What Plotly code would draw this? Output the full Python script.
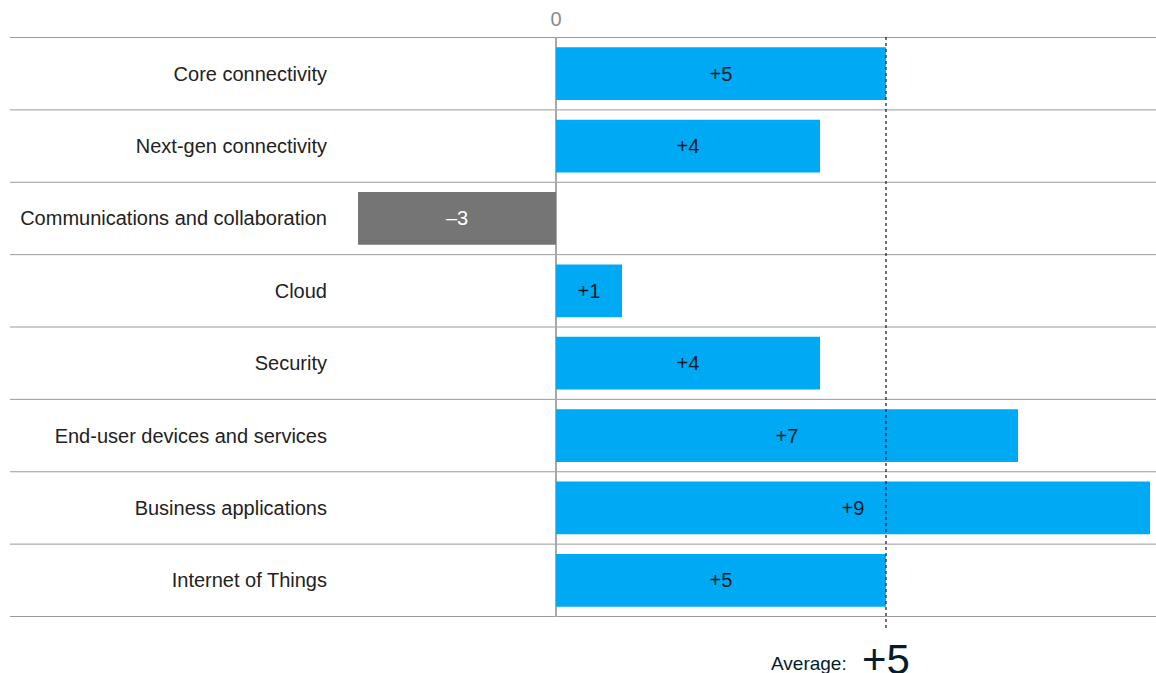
import plotly.graph_objects as go

# Change in spending by technology category (percentage points)
categories = [
    "Core connectivity",
    "Next-gen connectivity",
    "Communications and collaboration",
    "Cloud",
    "Security",
    "End-user devices and services",
    "Business applications",
    "Internet of Things",
]
values = [5, 4, -3, 1, 4, 7, 9, 5]
average = 5

BLUE = "#00a9f4"
GREY = "#757575"
NAVY = "#051c2c"
RULE = "#9a9a9a"
FONT = "Liberation Sans, Arial, sans-serif"


def fmt(v):
    return f"+{v}" if v > 0 else f"\u2013{abs(v)}"


bar_colors = [BLUE if v >= 0 else GREY for v in values]
text_colors = [NAVY if v >= 0 else "white" for v in values]

fig = go.Figure()
fig.add_trace(go.Bar(
    x=values,
    y=categories,
    orientation="h",
    marker=dict(color=bar_colors, line=dict(width=0)),
    width=0.73,
    text=[fmt(v) for v in values],
    textposition="inside",
    insidetextanchor="middle",
    textangle=0,
    constraintext="none",
    insidetextfont=dict(family=FONT, size=20, color=text_colors),
    hoverinfo="skip",
))

# Horizontal rules between rows, spanning the label column as well
L = 328
plot_w = 1156 - L
rule_x0 = (10 - L) / plot_w
for i in range(len(categories) + 1):
    fig.add_shape(
        type="line", xref="paper", yref="y",
        x0=rule_x0, x1=1, y0=i - 0.5, y1=i - 0.5,
        line=dict(color=RULE, width=1), layer="below",
    )

# Average marker
fig.add_shape(
    type="line", xref="x", yref="paper",
    x0=average, x1=average, y0=-0.019, y1=1,
    line=dict(color=NAVY, width=1.2, dash="3px,3px"), layer="above",
)
fig.add_annotation(
    x=average, xref="x", y=-0.073, yref="paper",
    text=fmt(average), showarrow=False, xanchor="center", yanchor="middle",
    font=dict(family=FONT, size=42, color=NAVY),
)
fig.add_annotation(
    x=average, xref="x", y=-0.08, yref="paper", xshift=-37,
    text="Average:", showarrow=False, xanchor="right", yanchor="middle",
    font=dict(family=FONT, size=19, color=NAVY),
)

fig.update_layout(
    width=1156, height=673,
    margin=dict(l=L, r=0, t=37, b=56),
    paper_bgcolor="white", plot_bgcolor="white",
    showlegend=False,
    font=dict(family=FONT, size=20, color="#222222"),
    xaxis=dict(
        range=[-(556 - L) / 66, (1156 - 556) / 66],
        side="top",
        tickvals=[0], ticktext=["0"],
        tickfont=dict(family=FONT, size=20, color="#8c8c8c"),
        ticklabelstandoff=6,
        showgrid=False,
        zeroline=True, zerolinecolor="#a8a8a8", zerolinewidth=1.5,
        showline=False, ticks="",
        fixedrange=True,
    ),
    yaxis=dict(
        autorange="reversed",
        showgrid=False, zeroline=False, showline=False, ticks="",
        tickfont=dict(family=FONT, size=20, color="#222222"),
        fixedrange=True,
    ),
)

fig.write_html("out.html")
